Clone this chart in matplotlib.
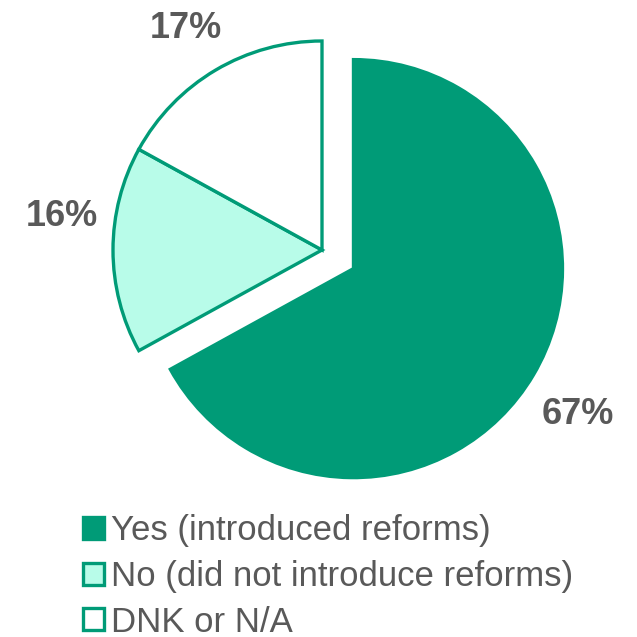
import matplotlib
matplotlib.use("Agg")
import matplotlib.pyplot as plt

# Survey responses: did the country introduce reforms?
categories = ["Yes (introduced reforms)", "No (did not introduce reforms)", "DNK or N/A"]
shares = [67, 16, 17]
labels = ["67%", "16%", "17%"]

GREEN = "#009B77"
MINT = "#B8FCE9"
WHITE = "#FFFFFF"
GREY = "#595959"

plt.rcParams["font.family"] = ["Liberation Sans", "DejaVu Sans"]

fig = plt.figure(figsize=(6.37, 6.37), dpi=100)
ax = fig.add_axes([0, 0, 1, 1])

RADIUS = 209
wedges, texts = ax.pie(
    shares,
    colors=[GREEN, MINT, WHITE],
    explode=[0.175 * RADIUS, 0, 0],
    startangle=90,
    counterclock=False,
    center=(322, 387),
    radius=RADIUS,
    labels=labels,
    labeldistance=1.2,
    wedgeprops=dict(edgecolor=GREEN, linewidth=2.4, joinstyle="miter"),
    textprops=dict(color=GREY, fontsize=26, fontweight="bold"),
    frame=True,
)
ax.set_xlim(0, 637)
ax.set_ylim(0, 637)
ax.set_aspect("equal")
ax.axis("off")

# Place value labels beside their slices
label_pos = [(578, 223), (62, 421), (186, 609)]
for t, (x, y) in zip(texts, label_pos):
    t.set_position((x, y))
    t.set_ha("center")
    t.set_va("center")

leg = ax.legend(
    wedges, categories,
    loc="upper left", bbox_to_anchor=(83 / 637, 1 - 514 / 637),
    frameon=False, fontsize=25,
    handlelength=0.6, handleheight=0.6, handletextpad=0.2,
    labelspacing=0.37, borderpad=0, borderaxespad=0,
)
for txt in leg.get_texts():
    txt.set_color(GREY)

fig.savefig("out.png", dpi=100)
